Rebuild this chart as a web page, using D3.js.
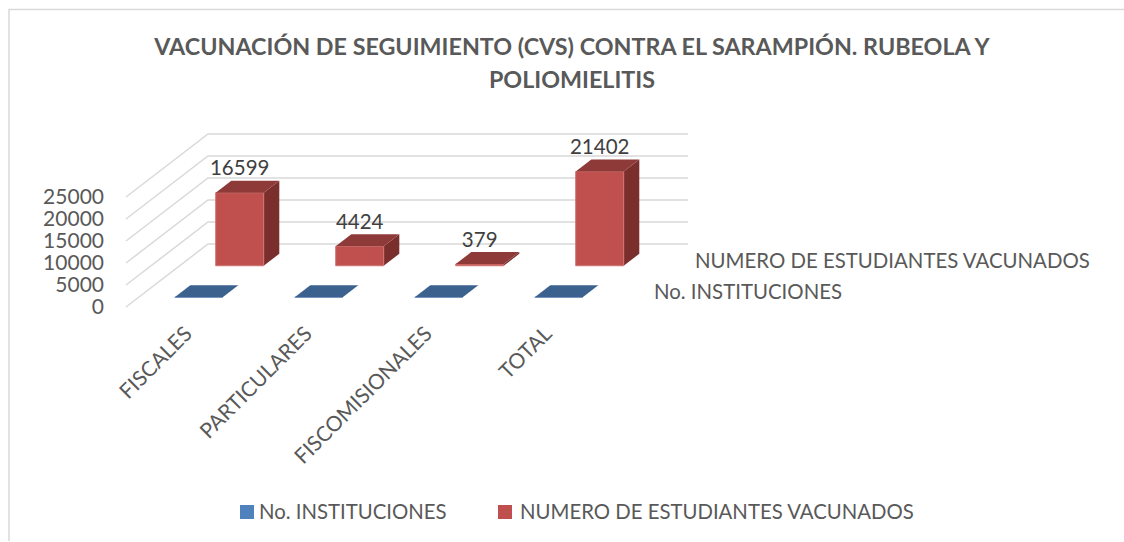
<!DOCTYPE html>
<html><head><meta charset="utf-8">
<script src="https://cdn.jsdelivr.net/npm/d3@7/dist/d3.min.js"></script>
<style>html,body{margin:0;padding:0;background:#fff}svg{display:block}text{font-family:Lato,"Open Sans",sans-serif}</style>
</head><body><svg id="c" width="1124" height="542"></svg>
<script>
const categories = ["FISCALES","PARTICULARES","FISCOMISIONALES","TOTAL"];
const seriesNames = ["No. INSTITUCIONES","NUMERO DE ESTUDIANTES VACUNADOS"];
const instituciones = [0,0,0,0];
const estudiantes = [16599,4424,379,21402];
const valueTicks = [0,5000,10000,15000,20000,25000];
const titleLines = ["VACUNACIÓN DE SEGUIMIENTO (CVS) CONTRA EL SARAMPIÓN. RUBEOLA Y","POLIOMIELITIS"];

const svg = d3.select("#c");
const floorShiftX=82, floorShiftY=63;
const x = d3.scaleBand().domain(categories).range([126,606]).paddingInner(0.6).paddingOuter(0.3);
const y = d3.scaleLinear().domain([0,25000]).range([307,197]);
const z = d3.scaleBand().domain(seriesNames).range([0,1]).paddingInner(0.62).paddingOuter(0.31);
const px=(u,d)=>u+d*floorShiftX, py=(v,d)=>y(v)-d*floorShiftY;
const line=d3.line();

// frame
svg.append("path").attr("d","M9,541V9.5H1124").attr("fill","none").attr("stroke","#d9d9d9").attr("stroke-width",1.5);

// gridlines
svg.append("g").selectAll("path").data(valueTicks).join("path")
  .attr("d",v=>line([[px(126,0),py(v,0)],[px(126,1),py(v,1)],[px(606,1),py(v,1)]]))
  .attr("fill","none").attr("stroke","#d9d9d9").attr("stroke-width",1.5);

// value axis
const ax=svg.append("g").attr("transform","translate(104,0)").call(d3.axisLeft(y).tickValues(valueTicks).tickSize(0).tickPadding(0).tickFormat(d3.format("d")));
ax.select(".domain").remove();
ax.selectAll("text").attr("font-size",21).attr("fill","#595959").style("font-family","Lato,sans-serif");

// category labels
svg.append("g").selectAll("text").data(categories).join("text")
  .attr("transform",c=>`translate(${x(c)+x.bandwidth()/2+2},${330}) rotate(-45)`)
  .attr("text-anchor","end").attr("dy","0.35em").attr("font-size",21).attr("fill","#595959").text(c=>c);

// bars
function bars(name,values,cols){
  const d0=z(name), d1=d0+z.bandwidth();
  const g=svg.append("g").selectAll("g").data(categories.map((c,i)=>({c,v:values[i]}))).join("g");
  const w=x.bandwidth();
  g.append("path").attr("fill",cols.side).attr("d",k=>{const a=x(k.c)+w;return line([[px(a,d0),py(0,d0)],[px(a,d1),py(0,d1)],[px(a,d1),py(k.v,d1)],[px(a,d0),py(k.v,d0)]])+"Z";});
  g.append("path").attr("fill",cols.front).attr("stroke",cols.edge).attr("stroke-width",1).attr("d",k=>{const a=x(k.c);return line([[px(a,d0),py(0,d0)],[px(a+w,d0),py(0,d0)],[px(a+w,d0),py(k.v,d0)],[px(a,d0),py(k.v,d0)]])+"Z";});
  g.append("path").attr("fill",cols.top).attr("d",k=>{const a=x(k.c);return line([[px(a,d0),py(k.v,d0)],[px(a+w,d0),py(k.v,d0)],[px(a+w,d1),py(k.v,d1)],[px(a,d1),py(k.v,d1)]])+"Z";});
  return g;
}
bars(seriesNames[0],instituciones,{front:"#4f81bd",edge:"#7d9fc9",top:"#3b618f",side:"#2f4e73"});
const rg=bars(seriesNames[1],estudiantes,{front:"#c0504d",edge:"#cf7370",top:"#8e3a38",side:"#7a2f2d"});
rg.append("text").attr("text-anchor","middle").attr("font-size",20.5).attr("fill","#404040")
  .attr("x",k=>px(x(k.c)+x.bandwidth()/2,z(seriesNames[1])))
  .attr("y",k=>py(k.v,z(seriesNames[1])+z.bandwidth())-5.5)
  .text(k=>k.v);

// depth axis labels
svg.append("g").selectAll("text").data(seriesNames).join("text")
  .attr("x",s=>px(606,z(s)+z.bandwidth()/2)+27.5).attr("y",s=>py(0,z(s)+z.bandwidth()/2)+1)
  .attr("dy","0.35em").attr("font-size",20.4).attr("fill","#595959").text(s=>s);

// title
svg.append("g").selectAll("text").data(titleLines).join("text")
  .attr("x",572).attr("y",(d,i)=>55+i*33).attr("text-anchor","middle")
  .attr("font-size",23.3).attr("font-weight",700).attr("fill","#595959").text(d=>d);

// legend
const legendX=[240,498], legendColors=["#4f81bd","#c0504d"];
const lg=svg.append("g").selectAll("g").data(seriesNames).join("g").attr("transform",(d,i)=>`translate(${legendX[i]},505)`);
lg.append("rect").attr("width",14).attr("height",14).attr("fill",(d,i)=>legendColors[i]);
lg.append("text").attr("x",(d,i)=>i?22:19).attr("y",7).attr("dy","0.35em").attr("font-size",20.35).attr("fill","#595959").text(d=>d);
</script></body></html>
